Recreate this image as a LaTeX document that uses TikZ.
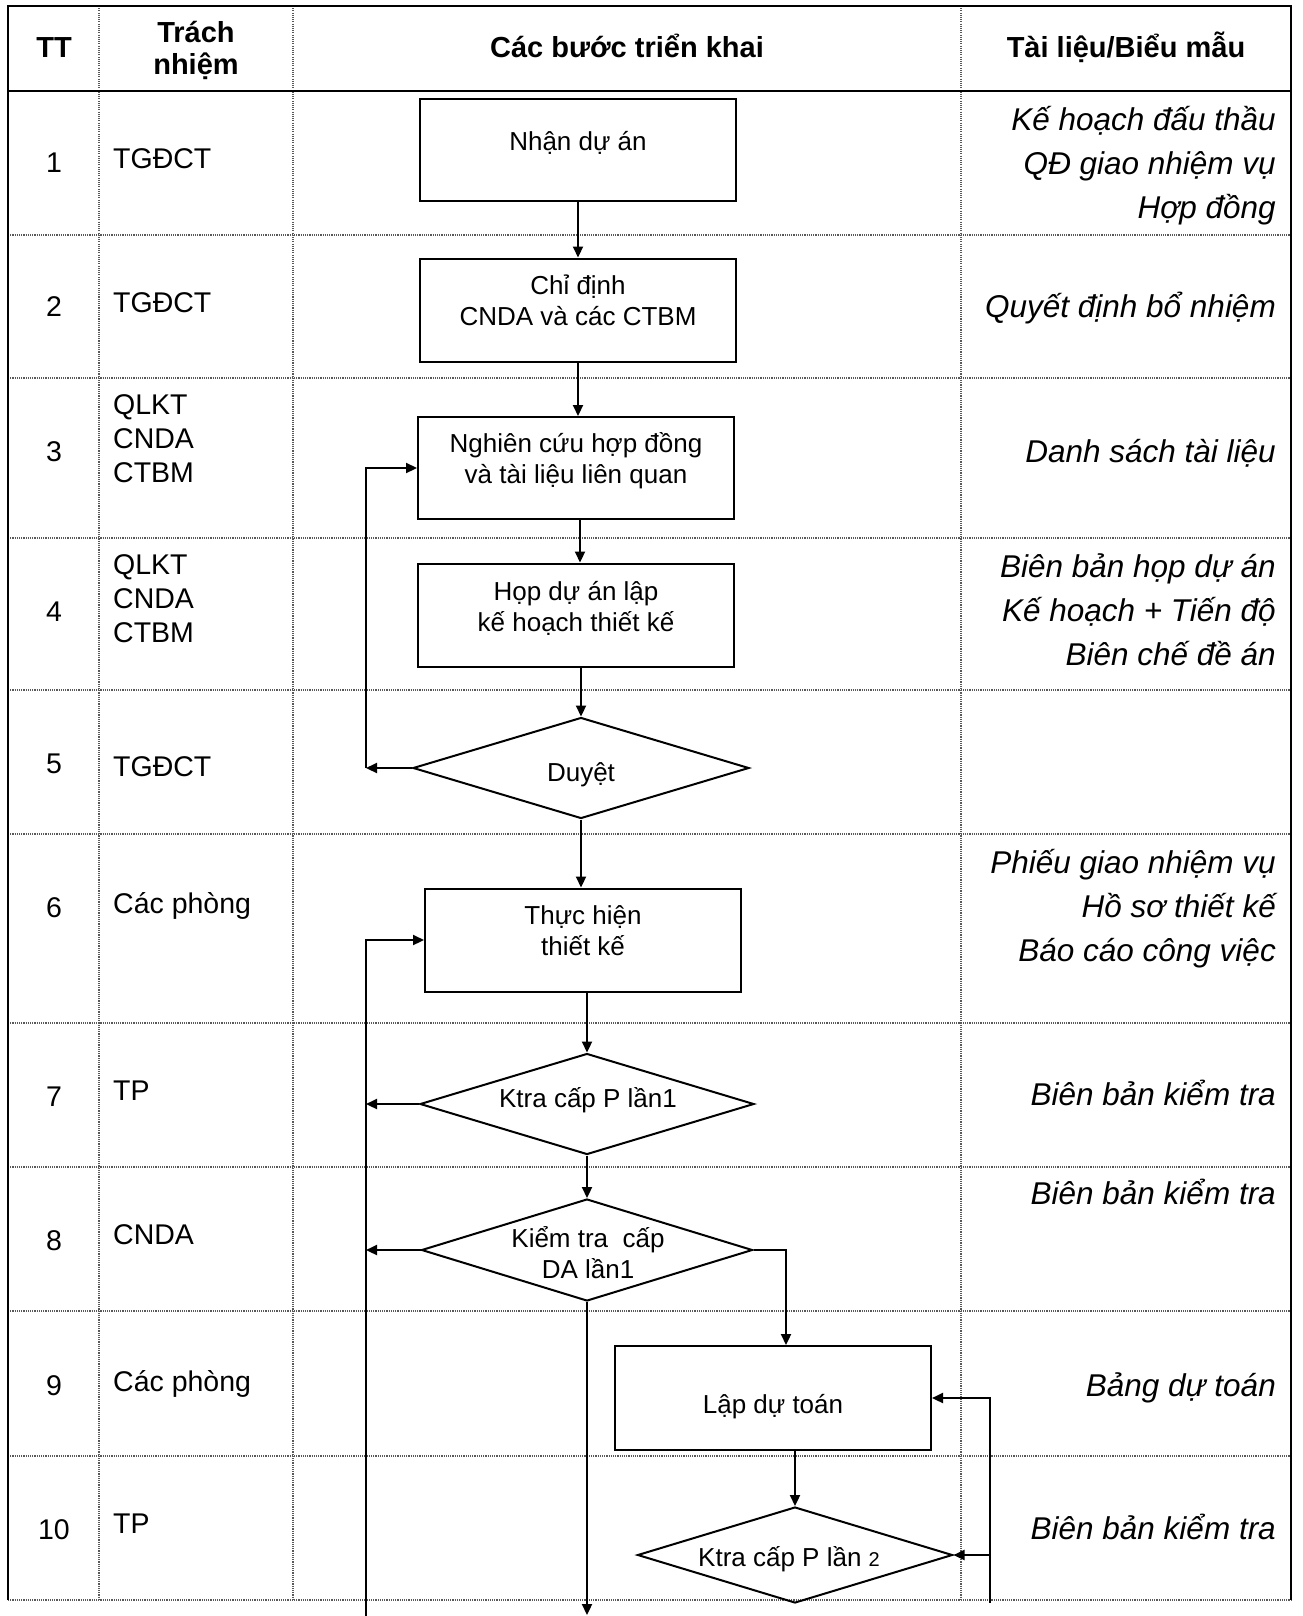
\documentclass[tikz,border=0pt]{standalone}
\usepackage{fontspec}
\setmainfont{Liberation Sans}
\usetikzlibrary{shapes.geometric,arrows.meta,calc}
\newcommand\vs{\rule[-0.3em]{0pt}{1.35em}}
\setlength{\lineskiplimit}{-100pt}
\begin{document}
\begin{tikzpicture}[x=1pt,y=-1pt,
 border/.style={line width=2.6pt},
 gridline/.style={line width=1.1pt, black!65, dash pattern=on 1.1pt off 1.1pt},
 box/.style={draw, line width=2pt, rectangle, inner sep=0pt, minimum width=316pt, minimum height=102pt},
 dia/.style={draw, line width=2pt, diamond, inner sep=0pt},
 boxtext/.style={font=\fontsize{26}{31}\selectfont, align=center, inner sep=0pt},
 resp/.style={font=\fontsize{28.5}{34}\selectfont, align=left, anchor=west, inner sep=0pt},
 num/.style={font=\fontsize{28.5}{34}\selectfont, inner sep=0pt},
 doc/.style={font=\fontsize{31.5}{44}\selectfont\itshape, align=right, anchor=east, inner sep=0pt},
 head/.style={font=\fontsize{29}{32}\selectfont\bfseries, align=center, inner sep=0pt},
 arr/.style={line width=2.2pt, -{Triangle[length=11pt,width=10pt]}},
 conn/.style={line width=2.2pt}]
\useasboundingbox (0,0) rectangle (1302,1616);

% table grid
\foreach \yy in {235,378,538,690,834,1023,1167,1311,1456,1600}
  \draw[gridline] (8,\yy) -- (1291,\yy);
\foreach \xx in {99,293,961}
  \draw[gridline] (\xx,6) -- (\xx,1600);
\draw[border] (8,1600) -- (8,6) -- (1291,6) -- (1291,1600);
\draw[border] (8,91) -- (1291,91);

% header
\node[head] (hTT) at (54,47) {\vs TT};
\node[head] (hTN) at (196,48) {\vs Trách\\\vs nhiệm};
\node[head] (hCB) at (627,47) {\vs Các bước triển khai};
\node[head] (hTL) at (1126,47) {\vs Tài liệu/Biểu mẫu};

% numbers
\node[num] (n1) at (54,162) {\vs 1};
\node[num] (n2) at (54,306) {\vs 2};
\node[num] (n3) at (54,451) {\vs 3};
\node[num] (n4) at (54,611) {\vs 4};
\node[num] (n5) at (54,763) {\vs 5};
\node[num] (n6) at (54,907) {\vs 6};
\node[num] (n7) at (54,1096) {\vs 7};
\node[num] (n8) at (54,1240) {\vs 8};
\node[num] (n9) at (54,1385) {\vs 9};
\node[num] (n10) at (54,1529) {\vs 10};

% responsibility
\node[resp] (r1) at (113,158) {\vs TGĐCT};
\node[resp] (r2) at (113,302) {\vs TGĐCT};
\node[resp] (r3) at (113,438) {\vs QLKT\\\vs CNDA\\\vs CTBM};
\node[resp] (r4) at (113,598) {\vs QLKT\\\vs CNDA\\\vs CTBM};
\node[resp] (r5) at (113,766) {\vs TGĐCT};
\node[resp] (r6) at (113,903) {\vs Các phòng};
\node[resp] (r7) at (113,1090) {\vs TP};
\node[resp] (r8) at (113,1234) {\vs CNDA};
\node[resp] (r9) at (113,1381) {\vs Các phòng};
\node[resp] (r10) at (113,1523) {\vs TP};

% documents
\node[doc] (k1) at (1276,163) {\vs Kế hoạch đấu thầu\\\vs QĐ giao nhiệm vụ\\\vs Hợp đồng};
\node[doc] (k2) at (1276,306) {\vs Quyết định bổ nhiệm};
\node[doc] (k3) at (1276,451) {\vs Danh sách tài liệu};
\node[doc] (k4) at (1276,610) {\vs Biên bản họp dự án\\\vs Kế hoạch + Tiến độ\\\vs Biên chế đề án};
\node[doc] (k6) at (1276,906) {\vs Phiếu giao nhiệm vụ\\\vs Hồ sơ thiết kế\\\vs Báo cáo công việc};
\node[doc] (k7) at (1276,1094) {\vs Biên bản kiểm tra};
\node[doc] (k8) at (1276,1193) {\vs Biên bản kiểm tra};
\node[doc] (k9) at (1276,1385) {\vs Bảng dự toán};
\node[doc] (k10) at (1276,1528) {\vs Biên bản kiểm tra};

% flow shapes
\node[box] (b1) at (578,150) {};
\node[box, minimum height=103pt] (b2) at (578,310) {};
\node[box] (b3) at (576,468) {};
\node[box, minimum height=103pt] (b4) at (576,615) {};
\node[dia, minimum width=336pt, minimum height=101pt] (d5) at (581,768) {};
\node[box, minimum height=103pt] (b6) at (583,940) {};
\node[dia, minimum width=334pt, minimum height=101pt] (d7) at (587,1104) {};
\node[dia, minimum width=331pt, minimum height=102pt] (d8) at (587,1250) {};
\node[box, minimum height=104pt] (b9) at (773,1398) {};
\node[dia, minimum width=315pt, minimum height=96pt] (d10) at (795,1555) {};

% flow texts
\node[boxtext] (t1) at (578,141) {\vs Nhận dự án};
\node[boxtext] (t2) at (578,300) {\vs Chỉ định\\\vs CNDA và các CTBM};
\node[boxtext] (t3) at (576,458) {\vs Nghiên cứu hợp đồng\\\vs và tài liệu liên quan};
\node[boxtext] (t4) at (576,606) {\vs Họp dự án lập\\\vs kế hoạch thiết kế};
\node[boxtext] (t5) at (581,772) {\vs Duyệt};
\node[boxtext] (t6) at (583,930) {\vs Thực hiện\\\vs thiết kế};
\node[boxtext] (t7) at (588,1098) {\vs Ktra cấp P lần1};
\node[boxtext] (t8) at (588,1253) {\vs Kiểm tra\ \ cấp\\\vs DA lần1};
\node[boxtext] (t9) at (773,1404) {\vs Lập dự toán};
\node[boxtext] (t10) at (789,1557) {\vs Ktra cấp P lần {\fontsize{20}{24}\selectfont 2}};

% connectors
\coordinate (L5) at (366,768);
\coordinate (Lbot) at (366,1616);
\coordinate (Dbot) at (587,1615);
\coordinate (Rbot) at (990,1603);

\draw[arr] (b1.south) -- (b1.south |- b2.north);
\draw[arr] (b2.south) -- (b2.south |- b3.north);
\draw[arr] ($(b3.south)+(4,0)$) -- ($(b3.south |- b4.north)+(4,0)$);
\draw[arr] (d5.north |- b4.south) -- (d5.north);
\draw[arr] (d5.west) -- (L5);
\draw[arr] (L5) |- (b3.west);
\draw[arr] (d5.south) -- (d5.south |- b6.north);
\draw[arr] (d7.north |- b6.south) -- (d7.north);
\draw[arr] (d7.west) -- (d7.west -| Lbot);
\draw[arr] (Lbot) |- (b6.west);
\draw[arr] (d7.south) -- (d8.north);
\draw[arr] (d8.west) -- (d8.west -| Lbot);
\draw[arr] (d8.south) -- (Dbot);
\draw[arr] (d8.east) -| ($(b9.north)+(13,0)$);
\draw[arr] (d10.north |- b9.south) -- (d10.north);
\draw[arr] (Rbot) |- (b9.east);
\draw[arr] (d10.east -| Rbot) -- (d10.east);
\end{tikzpicture}
\end{document}
